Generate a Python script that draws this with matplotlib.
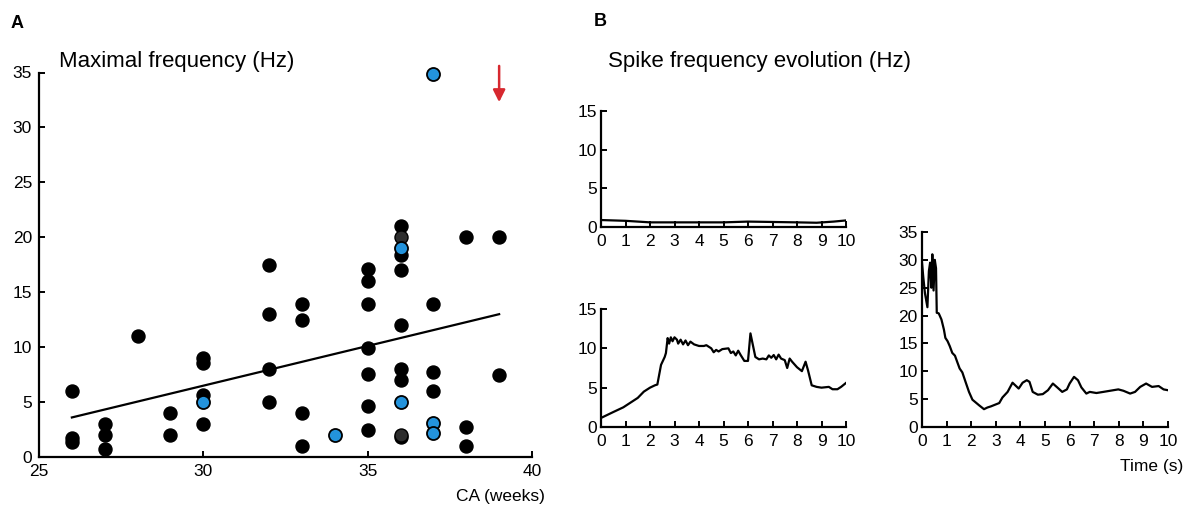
import numpy as np
import matplotlib
matplotlib.use("Agg")
import matplotlib.pyplot as plt

plt.rcParams['font.family'] = ['Liberation Sans', 'DejaVu Sans']

# panel A: maximal frequency vs corrected age
black_weeks = [26, 26, 26, 27, 27, 27, 28, 29, 29, 30, 30, 30, 30,
               32, 32, 32, 32, 33, 33, 33, 33,
               35, 35, 35, 35, 35, 35, 35,
               36, 36, 36, 36, 36, 36, 36,
               37, 37, 37, 38, 38, 38, 39, 39]
black_freq = [6, 1.7, 1.4, 3, 2, 0.75, 11, 4, 2, 9, 8.6, 5.6, 3,
              17.5, 13, 8, 5, 13.9, 12.5, 4, 1,
              17.1, 16, 13.9, 9.9, 7.6, 4.6, 2.5,
              21, 18.4, 17, 12, 8, 7, 1.8,
              13.9, 7.7, 6, 20, 2.7, 1, 20, 7.5]
grey_weeks = [36, 36]
grey_freq = [20, 2.0]
blue_weeks = [30, 34, 36, 36, 37, 37, 37]
blue_freq = [5, 2, 19, 5, 34.9, 3.1, 2.2]
fit_weeks = [26, 39]
fit_freq = [3.6, 13.0]
arrow_week = 39
arrow_from, arrow_to = 35.6, 32.3

# panel B: spike frequency evolution
t_top = [0, 1, 2, 3, 4, 5, 6, 7, 8, 8.8, 9.5, 10]
f_top = [0.9, 0.8, 0.6, 0.6, 0.6, 0.6, 0.7, 0.65, 0.6, 0.55, 0.7, 0.85]

t_mid = [0, 0.5, 0.91, 1.5, 1.75, 2.0, 2.2, 2.3, 2.45, 2.6, 2.65, 2.72, 2.78,
         2.85, 2.92, 3.0, 3.1, 3.15, 3.25, 3.35, 3.45, 3.55, 3.65, 3.8, 4.0,
         4.2, 4.3, 4.5, 4.6, 4.7, 4.8, 4.95, 5.2, 5.3, 5.4, 5.5, 5.6, 5.7,
         5.85, 6.0, 6.1, 6.2, 6.3, 6.45, 6.6, 6.75, 6.85, 6.95, 7.05, 7.15,
         7.25, 7.35, 7.5, 7.6, 7.7, 7.8, 8.0, 8.2, 8.35, 8.45, 8.6, 8.8, 9.0,
         9.3, 9.45, 9.65, 9.8, 10]
f_mid = [1.15, 1.9, 2.5, 3.7, 4.5, 5.0, 5.3, 5.4, 7.9, 8.9, 9.4, 11.3, 10.6,
         11.4, 10.9, 11.4, 11.1, 10.6, 11.1, 10.5, 11.0, 10.4, 10.85, 10.5, 10.3,
         10.3, 10.4, 10.0, 9.5, 9.8, 9.6, 9.9, 10.0, 9.4, 9.6, 9.1, 9.7, 9.15,
         8.4, 8.4, 11.9, 10.4, 8.9, 8.6, 8.7, 8.6, 9.1, 8.8, 9.15, 8.6,
         9.2, 8.7, 8.5, 7.5, 8.7, 8.3, 7.6, 7.1, 8.3, 7.2, 5.3, 5.1, 5.0,
         5.1, 4.8, 4.8, 5.1, 5.6]

t_right = [0, 0.05, 0.12, 0.22, 0.28, 0.33, 0.38, 0.42, 0.47, 0.52, 0.57, 0.6,
           0.68, 0.79, 0.89, 0.95, 1.04, 1.13, 1.23, 1.34, 1.43, 1.53, 1.64,
           1.77, 1.91, 2.05, 2.32, 2.52, 2.66, 2.8, 3.14, 3.27, 3.48, 3.68,
           3.93, 4.09, 4.26, 4.37, 4.5, 4.71, 4.91, 5.12, 5.32, 5.5, 5.7, 5.89,
           6.0, 6.18, 6.34, 6.48, 6.68, 6.82, 7.09, 7.37, 7.64, 7.98, 8.19,
           8.46, 8.66, 8.87, 9.11, 9.35, 9.62, 9.82, 10]
f_right = [29.5, 27, 24, 21.5, 28, 29.5, 25, 31, 24.5, 30, 28.5, 20.5,
           20.4, 19.3, 17.5, 16, 15.4, 14.5, 13.3, 12.8, 11.7, 10.5, 9.8,
           8.1, 6.3, 4.9, 3.9, 3.2, 3.5, 3.7, 4.3, 5.3, 6.3, 7.95,
           6.9, 7.95, 8.4, 8.1, 6.3, 5.8, 5.9, 6.6, 7.8, 7.1, 6.3, 6.75,
           7.8, 9.0, 8.4, 7.1, 6.0, 6.3, 6.1, 6.3, 6.5, 6.75, 6.5,
           6.0, 6.3, 7.2, 7.8, 7.2, 7.35, 6.75, 6.6]

W, H = 1196, 507
fig = plt.figure(figsize=(W / 100, H / 100), dpi=100)


def px_axes(l, t, r, b):
    return fig.add_axes([l / W, 1 - b / H, (r - l) / W, (b - t) / H])


def style(ax, size):
    for s in ['top', 'right']:
        ax.spines[s].set_visible(False)
    for s in ['left', 'bottom']:
        ax.spines[s].set_linewidth(1.6)
    ax.tick_params(direction='in', length=4, width=1.4, labelsize=size, pad=5)


# ---- panel A
axA = px_axes(39, 72.5, 532, 457)
axA.plot(fit_weeks, fit_freq, color='black', lw=1.6, zorder=2)
axA.scatter(black_weeks, black_freq, s=88, c='black', edgecolors='black',
            linewidths=1, zorder=3, clip_on=False)
axA.scatter(grey_weeks, grey_freq, s=88, c='#2e2e2e', edgecolors='black',
            linewidths=1, zorder=4, clip_on=False)
axA.scatter(blue_weeks, blue_freq, s=88, c='#2393dc', edgecolors='black',
            linewidths=1.3, zorder=5, clip_on=False)
axA.annotate('', xy=(arrow_week, arrow_to), xytext=(arrow_week, arrow_from),
             arrowprops=dict(arrowstyle='-|>', color='#d7282f', lw=1.8,
                             mutation_scale=18, shrinkA=0, shrinkB=0),
             annotation_clip=False)
axA.set_xlim(25, 40)
axA.set_ylim(0, 35)
axA.set_xticks([25, 30, 35, 40])
axA.set_yticks(np.arange(0, 36, 5))
style(axA, 12.5)

fig.text(59 / W, 1 - 61 / H, 'Maximal frequency (Hz)', fontsize=16,
         ha='left', va='center')
fig.text(545 / W, 1 - 497 / H, 'CA (weeks)', fontsize=12.5,
         ha='right', va='center')
fig.text(17 / W, 1 - 24 / H, 'A', fontsize=13, fontweight='bold',
         ha='center', va='center')

# ---- panel B
axT = px_axes(601, 111, 846, 227)
axT.plot(t_top, f_top, color='black', lw=1.6)
axT.set_ylim(0, 15)
axT.set_yticks([0, 5, 10, 15])

axM = px_axes(601, 309, 846, 427)
axM.plot(t_mid, f_mid, color='black', lw=1.6)
axM.set_ylim(0, 15)
axM.set_yticks([0, 5, 10, 15])

axR = px_axes(922, 232, 1168, 427)
axR.plot(t_right, f_right, color='black', lw=1.6)
axR.set_ylim(0, 35)
axR.set_yticks(np.arange(0, 36, 5))

for ax in (axT, axM, axR):
    ax.set_xlim(0, 10)
    ax.set_xticks(range(0, 11))
    style(ax, 12.5)
    ax.tick_params(axis='x', pad=5)
    ax.tick_params(axis='y', pad=3)

fig.text(608 / W, 1 - 61 / H, 'Spike frequency evolution (Hz)', fontsize=16,
         ha='left', va='center')
fig.text(1183 / W, 1 - 467 / H, 'Time (s)', fontsize=12.5,
         ha='right', va='center')
fig.text(600 / W, 1 - 22 / H, 'B', fontsize=13, fontweight='bold',
         ha='center', va='center')

fig.savefig('out.png', dpi=100)
